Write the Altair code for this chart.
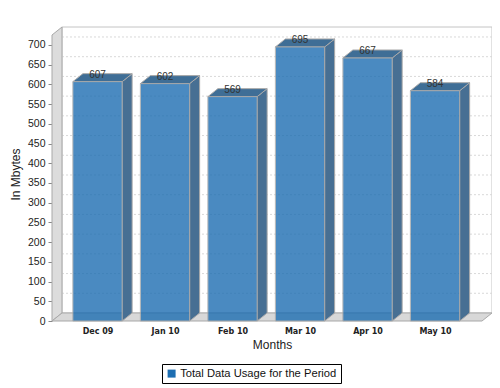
import altair as alt
import pandas as pd

# ---- data ----
months = ["Dec 09", "Jan 10", "Feb 10", "Mar 10", "Apr 10", "May 10"]
usage = [607, 602, 569, 695, 667, 584]
series_name = "Total Data Usage for the Period"
y_ticks = list(range(0, 701, 50))

# ---- 3D geometry (in data units) ----
X_MIN, X_MAX = -0.674, 5.844
Y_MAX = 745.6
DX, DY = 0.148, 20.3
HALF = 0.365
WALL_TOP = Y_MAX - DY

FONT = "Liberation Sans"
FRONT = "#1d6eb2"
SIDE = "#476f93"
TOP = "#3f6e96"
EDGE = "#a9a9a9"

idx = list(range(len(months)))
front = pd.DataFrame({
    "i": idx, "month": months, "v": usage,
    "l": [i - HALF for i in idx], "r": [i + HALF for i in idx],
    "zero": [0] * len(idx), "series": [series_name] * len(idx),
})

side_rows, top_rows = [], []
for i, v in zip(idx, usage):
    side_rows.append({"bar": i, "x": i + HALF, "y": v, "y2": 0})
    side_rows.append({"bar": i, "x": i + HALF + DX, "y": v + DY, "y2": DY})
    top_rows.append({"bar": i, "y": v, "x": i - HALF, "x2": i + HALF})
    top_rows.append({"bar": i, "y": v + DY, "x": i - HALF + DX, "x2": i + HALF + DX})
side = pd.DataFrame(side_rows)
top = pd.DataFrame(top_rows)

grid = pd.DataFrame({"y": [t + DY for t in y_ticks[1:]], "x": X_MIN + DX, "x2": X_MAX})
back = pd.DataFrame({"x": [X_MIN + DX], "x2": [X_MAX], "y": [DY], "y2": [Y_MAX]})
left_wall = pd.DataFrame({"x": [X_MIN, X_MIN + DX], "y": [0, DY], "y2": [WALL_TOP, Y_MAX]})
floor = pd.DataFrame({"y": [0, DY], "x": [X_MIN, X_MIN + DX], "x2": [X_MAX - DX, X_MAX]})

xs = alt.Scale(domain=[X_MIN, X_MAX], nice=False, zero=False)
ys = alt.Scale(domain=[0, Y_MAX], nice=False, zero=False)

label_expr = "[" + ",".join(f"'{m}'" for m in months) + "][datum.value]"

XAX = alt.Axis(values=idx, labelExpr=label_expr, title="Months", domain=False,
               ticks=False, grid=False, labelFont="DejaVu Sans", labelFontSize=8,
               labelFontWeight="bold", labelColor="#222", labelPadding=6,
               titleFont=FONT, titleFontSize=12, titleFontWeight="normal",
               titleColor="#222", titlePadding=4)
YAX = alt.Axis(values=y_ticks, title="In Mbytes", domain=False, grid=False,
               tickSize=4, tickColor="#888", labelFont=FONT, labelFontSize=10.5,
               labelColor="#222", labelPadding=3, titleFont=FONT,
               titleFontSize=12, titleFontWeight="normal", titleColor="#222",
               titlePadding=5)


def X(f):
    return alt.X(f, type="quantitative", scale=xs, axis=XAX, title="Months")


def Y(f):
    return alt.Y(f, type="quantitative", scale=ys, axis=YAX, stack=None, title="In Mbytes")


back_l = alt.Chart(back).mark_rect(fill="white", stroke="#c4c4c4", strokeWidth=1).encode(
    x=X("x"), x2="x2", y=Y("y"), y2="y2")

grid_l = alt.Chart(grid).mark_rule(color="#d8d8d8", strokeDash=[2, 2], strokeWidth=1).encode(
    x=X("x"), x2="x2", y=Y("y"))

left_l = alt.Chart(left_wall).mark_area(fill="#dcdcdc", stroke="#a8a8a8", strokeWidth=1,
                                         orient="vertical").encode(
    x=X("x"), y=Y("y"), y2="y2")

floor_l = alt.Chart(floor).mark_area(fill="#d8d8d8", stroke="#a8a8a8", strokeWidth=1,
                                      orient="horizontal").encode(
    y=Y("y"), x=X("x"), x2="x2")

side_l = alt.Chart(side).mark_area(fill=SIDE, stroke=EDGE, strokeWidth=1, orient="vertical").encode(
    x=X("x"), y=Y("y"), y2="y2", detail="bar:N")

top_l = alt.Chart(top).mark_area(fill=TOP, stroke=EDGE, strokeWidth=1, orient="horizontal").encode(
    y=Y("y"), x=X("x"), x2="x2", detail="bar:N")

front_l = alt.Chart(front).mark_rect(stroke=EDGE, strokeWidth=1, opacity=0.8).encode(
    x=X("l"), x2="r", y=Y("zero"), y2="v",
    color=alt.Color("series:N", scale=alt.Scale(range=[FRONT]),
                    legend=alt.Legend(title=None, orient="none", legendX=110, legendY=337,
                                      strokeColor="#000", fillColor="white", padding=4,
                                      cornerRadius=0, symbolType="square", symbolSize=64,
                                      symbolOpacity=1, symbolStrokeWidth=0, symbolOffset=0,
                                      labelFont=FONT, labelFontSize=11.2, labelColor="#111",
                                      labelOffset=3, labelLimit=300)),
)

labels_l = alt.Chart(front).mark_text(font=FONT, fontSize=10, color="#333", dy=-4,
                                      baseline="alphabetic", align="center").encode(
    x=X("i"), y=Y("v"), text="v:Q")

chart = alt.layer(back_l, grid_l, left_l, floor_l, side_l, top_l, front_l, labels_l).properties(
    width=440, height=294, autosize="none",
    padding={"left": 44, "top": 19, "right": 0, "bottom": 67},
).configure_view(stroke=None)

chart.save("out.html", embed_options={"renderer": "svg", "actions": False})
